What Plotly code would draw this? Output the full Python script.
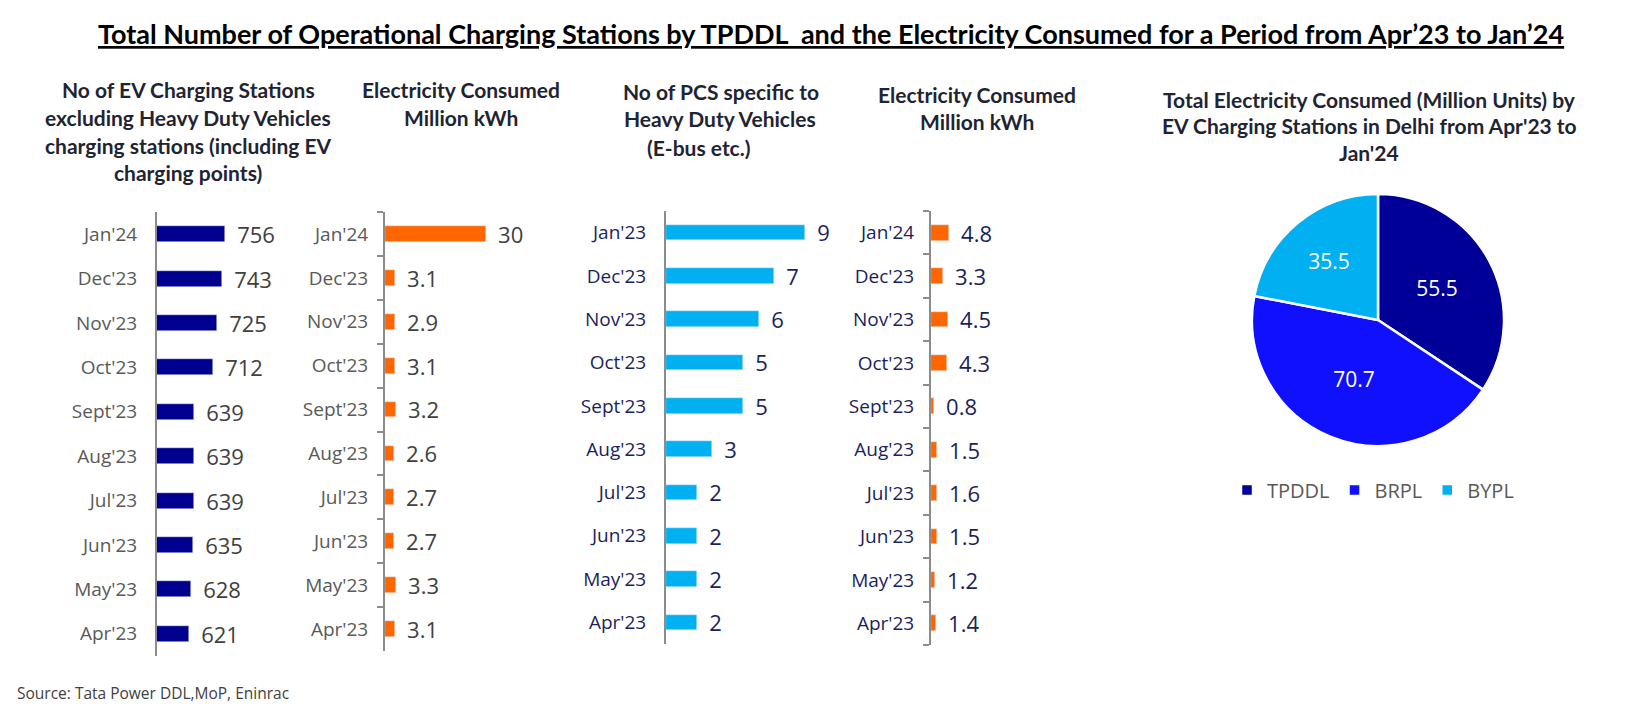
import plotly.graph_objects as go

# The page body has an 8px margin, so the figure is drawn 8px in from the
# window edge; size it so it fits the 1645x717 window exactly.
PAGE_W, PAGE_H = 1645, 717
OFF = 8
W, H = PAGE_W - 2 * OFF, PAGE_H - 2 * OFF


def fx(px):
    return (px - OFF) / W


def fy(py):
    return 1 - (py - OFF) / H


# ---------------- data ----------------
months = ["Apr'23", "May'23", "Jun'23", "Jul'23", "Aug'23",
          "Sept'23", "Oct'23", "Nov'23", "Dec'23", "Jan'24"]
ev_stations = [621, 628, 635, 639, 639, 639, 712, 725, 743, 756]
ev_energy = [3.1, 3.3, 2.7, 2.7, 2.6, 3.2, 3.1, 2.9, 3.1, 30]

hdv_months = ["Apr'23", "May'23", "Jun'23", "Jul'23", "Aug'23",
              "Sept'23", "Oct'23", "Nov'23", "Dec'23", "Jan'23"]
hdv_stations = [2, 2, 2, 2, 3, 5, 5, 6, 7, 9]
hdv_energy_months = ["Apr'23", "May'23", "Jun'23", "Jul'23", "Aug'23",
                     "Sept'23", "Oct'23", "Nov'23", "Dec'23", "Jan'24"]
hdv_energy = [1.4, 1.2, 1.5, 1.6, 1.5, 0.8, 4.3, 4.5, 3.3, 4.8]

pie_labels = ["TPDDL", "BRPL", "BYPL"]
pie_values = [55.5, 70.7, 35.5]

title_text = ("Total Number of Operational Charging Stations by TPDDL\u00a0 and the "
              "Electricity Consumed for a Period from Apr\u201923 to Jan\u201924")
header1 = ["No of EV Charging Stations", "excluding Heavy Duty Vehicles",
           "charging stations (including EV", "charging points)"]
header2 = ["Electricity Consumed", "Million kWh"]
header3 = ["No of PCS specific to", "Heavy Duty Vehicles", "(E-bus etc.)"]
header4 = ["Electricity Consumed", "Million kWh"]
pie_title = ["Total Electricity Consumed (Million Units) by",
             "EV Charging Stations in Delhi from Apr'23 to", "Jan'24"]
source_text = "Source: Tata Power DDL,MoP, Eninrac"

# ---------------- styles ----------------
NAVY = "#000090"
ORANGE = "#FF6600"
LIGHTBLUE = "#00B0F0"
GREY_TXT = "#595959"
DARK_TXT = "#404040"
NAVY_TXT = "#1B1F5C"
AXIS_GREY = "#8C8C8C"
BODY_FONT = "Open Sans"
HEAD_FONT = "Lato"

fig = go.Figure()

bar_common = dict(orientation="h", width=0.36, textposition="outside",
                  constraintext="none", cliponaxis=False, showlegend=False,
                  hoverinfo="skip", texttemplate="\u00a0\u2009%{x}")

fig.add_trace(go.Bar(x=ev_stations, y=months, marker_color=NAVY,
                     textfont=dict(family=BODY_FONT, size=22, color=DARK_TXT),
                     xaxis="x", yaxis="y", **bar_common))
fig.add_trace(go.Bar(x=ev_energy, y=months, marker_color=ORANGE,
                     textfont=dict(family=BODY_FONT, size=22, color=DARK_TXT),
                     xaxis="x2", yaxis="y2", **bar_common))
fig.add_trace(go.Bar(x=hdv_stations, y=hdv_months, marker_color=LIGHTBLUE,
                     textfont=dict(family=BODY_FONT, size=22, color=NAVY_TXT),
                     xaxis="x3", yaxis="y3", **bar_common))
fig.add_trace(go.Bar(x=hdv_energy, y=hdv_energy_months, marker_color=ORANGE,
                     textfont=dict(family=BODY_FONT, size=22, color=NAVY_TXT),
                     xaxis="x4", yaxis="y4", **bar_common))

fig.add_trace(go.Pie(labels=pie_labels, values=pie_values, sort=False,
                     direction="clockwise", rotation=0,
                     domain=dict(x=[fx(1252), fx(1504)], y=[fy(446), fy(194)]),
                     marker=dict(colors=["#000099", "#1010FF", LIGHTBLUE],
                                 line=dict(color="white", width=2.5)),
                     textinfo="value", textposition="inside",
                     insidetextorientation="horizontal",
                     textfont=dict(family=BODY_FONT, size=21, color="white"),
                     hoverinfo="skip", showlegend=True))


def xax(d0, d1, rng):
    return dict(domain=[fx(d0), fx(d1)], range=rng, visible=False,
                fixedrange=True, showgrid=False, zeroline=False)


def yax(anchor, top, bottom, color, ticks):
    ax = dict(domain=[fy(bottom), fy(top)], anchor=anchor, type="category",
              range=[-0.5, 9.5], showline=True, linecolor=AXIS_GREY, linewidth=2,
              showgrid=False, zeroline=False, fixedrange=True,
              tickfont=dict(family=BODY_FONT, size=19, color=color))
    if ticks:
        ax.update(ticks="outside", tickson="boundaries", ticklen=6, tickwidth=2,
                  tickcolor=AXIS_GREY, ticklabelstandoff=11)
    else:
        ax.update(ticks="", ticklabelstandoff=14)
    return ax


fig.update_layout(
    width=W, height=H, autosize=False,
    margin=dict(l=0, r=0, t=0, b=0),
    paper_bgcolor="white", plot_bgcolor="white",
    bargap=0,
    xaxis=xax(157, 290, [500, 1000]),
    yaxis=yax("x", 212, 656, GREY_TXT, False),
    xaxis2=xax(385, 520, [0, 40]),
    yaxis2=yax("x2", 212, 651, GREY_TXT, True),
    xaxis3=xax(666, 851, [0, 12]),
    yaxis3=yax("x3", 211, 644, NAVY_TXT, False),
    xaxis4=xax(931, 1043, [0, 30]),
    yaxis4=yax("x4", 211, 645, NAVY_TXT, True),
    legend=dict(orientation="h", x=fx(1227), xanchor="left",
                y=fy(490), yanchor="middle", bgcolor="rgba(0,0,0,0)",
                font=dict(family=BODY_FONT, size=20, color=GREY_TXT),
                itemclick=False, itemdoubleclick=False),
)

annotations = []


def add_text(text, x, y, size, color, family=HEAD_FONT, bold=True, xanchor="center"):
    annotations.append(dict(text=f"<b>{text}</b>" if bold else text,
                            x=fx(x), y=fy(y), xref="paper", yref="paper",
                            xanchor=xanchor, yanchor="middle", showarrow=False,
                            font=dict(family=family, size=size, color=color)))


add_text(f"<u>{title_text}</u>", 831, 33, 27, "#000000")
HEAD_COL = "#1F2433"
for txt, y in zip(header1, [89, 117, 145, 173]):
    add_text(txt, 188, y, 21, HEAD_COL)
for txt, y in zip(header2, [89, 117]):
    add_text(txt, 461, y, 21, HEAD_COL)
for txt, y, x in zip(header3, [91, 119, 147], [721, 720, 698]):
    add_text(txt, x, y, 21, HEAD_COL)
for txt, y in zip(header4, [94, 122]):
    add_text(txt, 977, y, 21, HEAD_COL)
for txt, y in zip(pie_title, [99, 125, 152]):
    add_text(txt, 1369, y, 21, HEAD_COL)
add_text(source_text, 15, 693, 15.5, DARK_TXT, family=BODY_FONT, bold=False, xanchor="left")

fig.update_layout(annotations=annotations)

fig.write_html("out.html")
